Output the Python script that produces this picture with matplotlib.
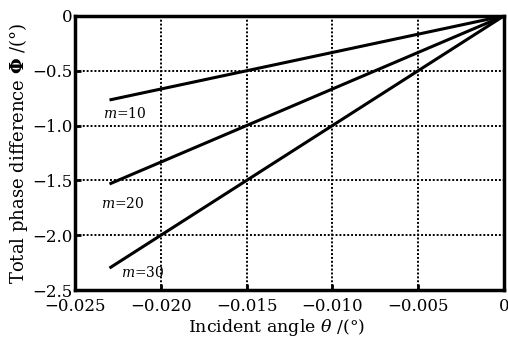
import numpy as np
import matplotlib.pyplot as plt

plt.rcParams['font.family'] = ['DejaVu Serif']
plt.rcParams['mathtext.fontset'] = 'dejavuserif'

# data
theta = [-0.023, 0.0]
phi_m10 = [-0.767, 0.0]
phi_m20 = [-1.533, 0.0]
phi_m30 = [-2.30, 0.0]
labels = ['$m$=10', '$m$=20', '$m$=30']
label_pos = [(-0.0234, -0.89), (-0.0235, -1.71), (-0.0223, -2.34)]

xticks = [-0.025, -0.020, -0.015, -0.010, -0.005, 0]
xticklabels = ['\u22120.025', '\u22120.020', '\u22120.015', '\u22120.010', '\u22120.005', '0']
yticks = [-2.5, -2.0, -1.5, -1.0, -0.5, 0]
yticklabels = ['\u22122.5', '\u22122.0', '\u22121.5', '\u22121.0', '\u22120.5', '0']

fig = plt.figure(figsize=(5.08, 3.38), dpi=100)
ax = fig.add_axes([0.148, 0.142, 0.844, 0.811])

for ys in (phi_m10, phi_m20, phi_m30):
    ax.plot(theta, ys, color='black', lw=2.2, solid_capstyle='butt')

for txt, (x, y) in zip(labels, label_pos):
    ax.text(x, y, txt, fontsize=10, ha='left', va='center')

ax.set_xlim(-0.025, 0)
ax.set_ylim(-2.5, 0)
ax.set_xticks(xticks)
ax.set_xticklabels(xticklabels)
ax.set_yticks(yticks)
ax.set_yticklabels(yticklabels)
ax.tick_params(direction='in', length=4, width=2, labelsize=12)
ax.tick_params(axis='x', pad=6)
ax.tick_params(axis='y', pad=2)
ax.grid(True, color='black', linestyle=(0, (1, 1)), linewidth=1.4)

for s in ax.spines.values():
    s.set_linewidth(2.5)

ax.set_xlabel(r'Incident angle $\theta$ /(°)', fontsize=12.5)
ax.set_ylabel(r'Total phase difference $\boldsymbol{\Phi}$ /(°)', fontsize=13)
ax.xaxis.set_label_coords(0.47, -0.097)
ax.yaxis.set_label_coords(-0.105, 0.5)

plt.savefig('out.png', dpi=100)
